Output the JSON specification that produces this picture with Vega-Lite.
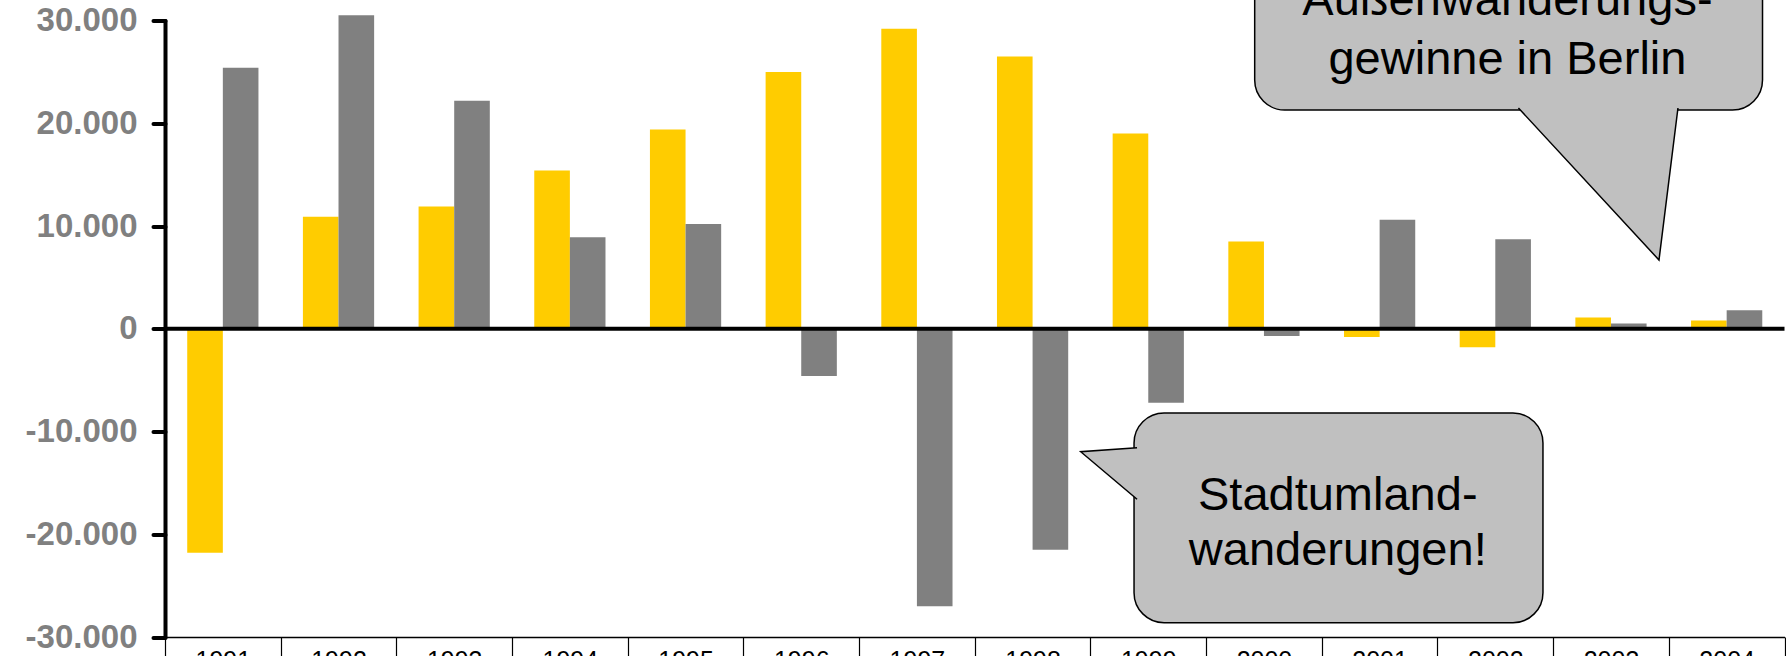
{
  "$schema": "https://vega.github.io/schema/vega-lite/v6.json",
  "width": 1619.5,
  "height": 616.5,
  "autosize": {"type": "none"},
  "padding": {"left": 165, "top": 20.5, "right": 1.5, "bottom": 19},
  "background": "white",
  "config": {"view": {"stroke": null}, "font": "Liberation Sans"},
  "datasets": {
    "bars": [
      {"jahr": "1991", "reihe": "s1", "wert": -21800}, {"jahr": "1991", "reihe": "s2", "wert": 25400},
      {"jahr": "1992", "reihe": "s1", "wert": 10900}, {"jahr": "1992", "reihe": "s2", "wert": 30500},
      {"jahr": "1993", "reihe": "s1", "wert": 11900}, {"jahr": "1993", "reihe": "s2", "wert": 22200},
      {"jahr": "1994", "reihe": "s1", "wert": 15400}, {"jahr": "1994", "reihe": "s2", "wert": 8900},
      {"jahr": "1995", "reihe": "s1", "wert": 19400}, {"jahr": "1995", "reihe": "s2", "wert": 10200},
      {"jahr": "1996", "reihe": "s1", "wert": 25000}, {"jahr": "1996", "reihe": "s2", "wert": -4600},
      {"jahr": "1997", "reihe": "s1", "wert": 29200}, {"jahr": "1997", "reihe": "s2", "wert": -27000},
      {"jahr": "1998", "reihe": "s1", "wert": 26500}, {"jahr": "1998", "reihe": "s2", "wert": -21500},
      {"jahr": "1999", "reihe": "s1", "wert": 19000}, {"jahr": "1999", "reihe": "s2", "wert": -7200},
      {"jahr": "2000", "reihe": "s1", "wert": 8500}, {"jahr": "2000", "reihe": "s2", "wert": -700},
      {"jahr": "2001", "reihe": "s1", "wert": -800}, {"jahr": "2001", "reihe": "s2", "wert": 10600},
      {"jahr": "2002", "reihe": "s1", "wert": -1800}, {"jahr": "2002", "reihe": "s2", "wert": 8700},
      {"jahr": "2003", "reihe": "s1", "wert": 1100}, {"jahr": "2003", "reihe": "s2", "wert": 500},
      {"jahr": "2004", "reihe": "s1", "wert": 800}, {"jahr": "2004", "reihe": "s2", "wert": 1800}
    ],
    "boxes": [
      {"id": "oben", "x1": 1999.92, "x2": 2004.31, "y1": 37800, "y2": 21289},
      {"id": "unten", "x1": 1998.877, "x2": 2002.412, "y1": -8199, "y2": -28607}
    ],
    "pointers": [
      {"id": "oben", "i": 1, "px": 2002.2, "py": 21484},
      {"id": "oben", "i": 2, "px": 2003.415, "py": 6691},
      {"id": "oben", "i": 3, "px": 2003.579, "py": 21484},
      {"id": "unten", "i": 1, "px": 1998.903, "py": -11576},
      {"id": "unten", "i": 2, "px": 1998.416, "py": -11966},
      {"id": "unten", "i": 3, "px": 1998.903, "py": -16598}
    ],
    "texts": [
      {"t": "Außenwanderungs-", "tx": 2002.105, "ty": 30534},
      {"t": "gewinne in Berlin", "tx": 2002.105, "ty": 24792},
      {"t": "Stadtumland-", "tx": 2000.638, "ty": -17600},
      {"t": "wanderungen!", "tx": 2000.638, "ty": -23000}
    ]
  },
  "layer": [
    {
      "data": {"name": "bars"},
      "mark": {"type": "bar"},
      "encoding": {
        "x": {
          "field": "jahr", "type": "ordinal",
          "scale": {"paddingInner": 0, "paddingOuter": 0},
          "axis": {
            "title": null, "labelAngle": 0, "tickBand": "extent",
            "tickSize": 20, "tickWidth": 1.2, "tickColor": "black",
            "domainColor": "black", "domainWidth": 1.5,
            "labelFontSize": 25, "labelColor": "black", "labelFont": "Liberation Sans",
            "labelPadding": -9, "zindex": 1
          }
        },
        "xOffset": {"field": "reihe", "type": "nominal", "scale": {"paddingInner": 0, "paddingOuter": 0.624}},
        "y": {
          "field": "wert", "type": "quantitative",
          "scale": {"domain": [-30000, 30000], "nice": false, "zero": false},
          "axis": {
            "title": null, "grid": false,
            "values": [-30000, -20000, -10000, 0, 10000, 20000, 30000],
            "labelExpr": "datum.value == 0 ? '0' : replace(replace(format(datum.value, ','), ',', '.'), '\u2212', '-')",
            "tickSize": 12, "tickWidth": 4, "tickColor": "black", "tickCap": "round",
            "domainColor": "black", "domainWidth": 4, "domainCap": "round",
            "labelFontSize": 33, "labelFontWeight": "bold", "labelColor": "#808080",
            "labelFont": "Liberation Sans", "labelPadding": 16, "zindex": 1
          }
        },
        "color": {
          "field": "reihe", "type": "nominal",
          "scale": {"domain": ["s1", "s2"], "range": ["#FFCC00", "#808080"]},
          "legend": null
        }
      }
    },
    {
      "data": {"values": [{}]},
      "mark": {"type": "rule", "color": "black", "strokeWidth": 4},
      "encoding": {
        "y": {"datum": 0, "type": "quantitative", "scale": {"domain": [-30000, 30000], "nice": false, "zero": false}, "axis": null}
      }
    },
    {
      "data": {"name": "boxes"},
      "mark": {"type": "rect", "fill": "#C0C0C0", "stroke": "black", "strokeWidth": 1.5, "cornerRadius": 30},
      "encoding": {
        "x": {"field": "x1", "type": "quantitative", "scale": {"domain": [1990.5, 2004.5], "nice": false, "zero": false}, "axis": null},
        "x2": {"field": "x2"},
        "y": {"field": "y1", "type": "quantitative", "scale": {"domain": [-30000, 30000], "nice": false, "zero": false}, "axis": null},
        "y2": {"field": "y2"}
      }
    },
    {
      "data": {"name": "pointers"},
      "mark": {"type": "line", "fill": "#C0C0C0", "stroke": "black", "strokeWidth": 1.5, "strokeJoin": "miter"},
      "encoding": {
        "x": {"field": "px", "type": "quantitative", "scale": {"domain": [1990.5, 2004.5], "nice": false, "zero": false}, "axis": null},
        "y": {"field": "py", "type": "quantitative", "scale": {"domain": [-30000, 30000], "nice": false, "zero": false}, "axis": null},
        "order": {"field": "i", "type": "quantitative"},
        "detail": {"field": "id", "type": "nominal"}
      }
    },
    {
      "data": {"name": "texts"},
      "mark": {"type": "text", "fontSize": 47, "font": "Liberation Sans", "color": "black", "align": "center", "baseline": "alphabetic"},
      "encoding": {
        "x": {"field": "tx", "type": "quantitative", "scale": {"domain": [1990.5, 2004.5], "nice": false, "zero": false}, "axis": null},
        "y": {"field": "ty", "type": "quantitative", "scale": {"domain": [-30000, 30000], "nice": false, "zero": false}, "axis": null},
        "text": {"field": "t"}
      }
    }
  ],
  "resolve": {"scale": {"x": "independent"}, "axis": {"y": "independent"}}
}
